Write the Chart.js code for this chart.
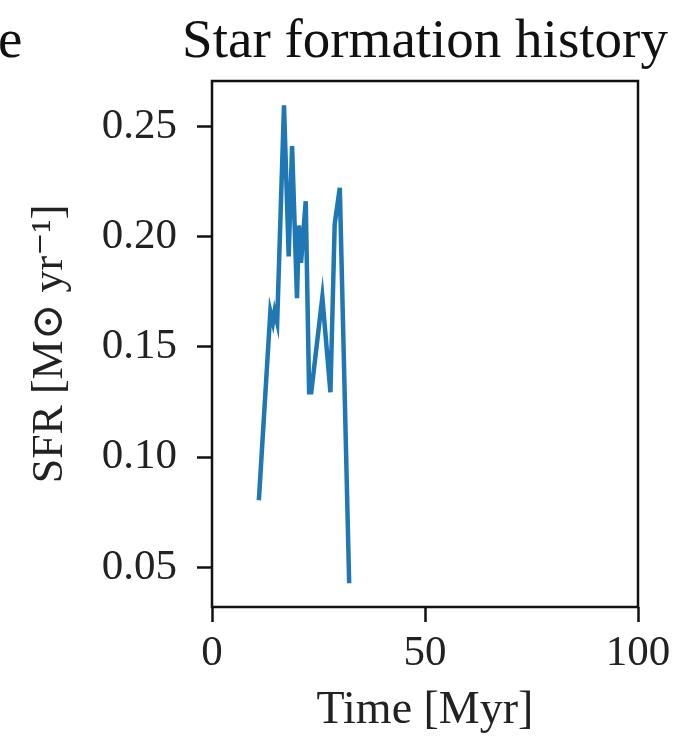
<!DOCTYPE html>
<html>
<head>
<meta charset="utf-8">
<script src="https://cdn.jsdelivr.net/npm/chart.js@4"></script>
<style>
  html, body { margin: 0; padding: 0; background: #fff; }
  #wrap { width: 684px; height: 739px; }
</style>
</head>
<body>
<div id="wrap"><canvas id="sfrChart" width="684" height="739"></canvas></div>
<script>
// Data
const timeMyr = [11.0, 13.7, 14.3, 14.7, 15.3, 16.9, 18.0, 18.8, 19.95, 20.4, 20.9, 22.0, 22.8, 23.3, 25.9, 27.8, 28.8, 30.0, 32.2];
const sfr = [0.0804, 0.166, 0.161, 0.166, 0.161, 0.2595, 0.191, 0.241, 0.172, 0.205, 0.188, 0.216, 0.1294, 0.1294, 0.1724, 0.1294, 0.2056, 0.2221, 0.0428];
const xTicks = [0, 50, 100];
const yTicks = [0.05, 0.10, 0.15, 0.20, 0.25];

const SERIF = '"Liberation Serif", "DejaVu Serif", serif';
const TICK_SIZE = 43;

// Frame + title text drawn relative to the chart area
const framePlugin = {
    id: 'frame',
    afterDraw(chart) {
        const { ctx, chartArea: a } = chart;
        ctx.save();
        ctx.strokeStyle = '#111';
        ctx.lineWidth = 2.5;
        ctx.strokeRect(a.left, a.top, a.right - a.left, a.bottom - a.top);
        ctx.fillStyle = '#111';
        ctx.font = `55px ${SERIF}`;
        ctx.textBaseline = 'alphabetic';
        ctx.textAlign = 'center';
        ctx.fillText('Star formation history', (a.left + a.right) / 2, 57);
        ctx.textAlign = 'left';
        ctx.fillText('e', -2, 57);
        ctx.restore();
    }
};

const data = timeMyr.map((t, i) => ({ x: t, y: sfr[i] }));

new Chart(document.getElementById('sfrChart'), {
    type: 'line',
    data: {
        datasets: [{
            data: data,
            borderColor: '#1f77b4',
            borderWidth: 4.5,
            pointRadius: 0,
            tension: 0,
            fill: false
        }]
    },
    options: {
        responsive: false,
        animation: false,
        layout: { padding: { left: 0, top: 81, right: 46, bottom: 0 } },
        plugins: { legend: { display: false }, tooltip: { enabled: false } },
        scales: {
            x: {
                type: 'linear',
                min: 0,
                max: 100,
                afterBuildTicks: s => { s.ticks = xTicks.map(v => ({ value: v })); },
                afterFit: s => { s.height = 132; },
                border: { display: false },
                grid: { drawOnChartArea: false, drawTicks: true, tickLength: 15, tickWidth: 2.5, tickColor: '#111' },
                ticks: { color: '#222', padding: 6, maxRotation: 0, font: { family: SERIF, size: TICK_SIZE } },
                title: { display: true, text: 'Time [Myr]', color: '#222', padding: { top: 0, bottom: 0 }, font: { family: SERIF, size: 46 } }
            },
            y: {
                type: 'linear',
                min: 0.032,
                max: 0.2705,
                afterBuildTicks: s => { s.ticks = yTicks.map(v => ({ value: v })); },
                afterFit: s => { s.width = 212; },
                border: { display: false },
                grid: { drawOnChartArea: false, drawTicks: true, tickLength: 15, tickWidth: 2.5, tickColor: '#111' },
                ticks: { color: '#222', padding: 20, callback: v => v.toFixed(2), font: { family: SERIF, size: TICK_SIZE } },
                title: { display: true, text: 'SFR [M\u2299 yr\u207B\u00B9]', color: '#222', padding: { top: 24, bottom: 0 }, font: { family: SERIF, size: 44 } }
            }
        }
    },
    plugins: [framePlugin]
});
</script>
</body>
</html>
